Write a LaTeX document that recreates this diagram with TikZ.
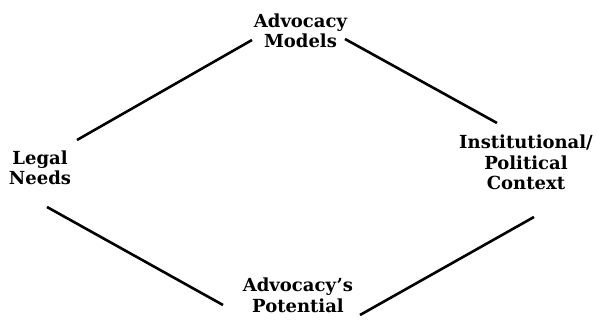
\documentclass[tikz,border=0pt]{standalone}
\usepackage{fontspec}
\setmainfont{DejaVu Serif}
\usetikzlibrary{calc}
\begin{document}
\begin{tikzpicture}[x=1pt,y=-1pt,
  lbl/.style={align=center,inner sep=0pt,anchor=base,
    font=\fontsize{18}{20.5}\selectfont\bfseries},
  link/.style={line width=2.6pt}]
\useasboundingbox (0,0) rectangle (597,323);
\node[lbl] (models) at (300.5,48) {Advocacy\\Models};
\node[lbl] (legal) at (40,185) {Legal\\Needs};
\node[lbl] (inst) at (526,190) {Institutional/\\Political\\Context};
\node[lbl] (pot) at (298,312) {Advocacy's\\Potential};
\draw[link] ($(legal.base)+(37,-45)$) -- ($(models.base)+(-48.5,-8)$);
\draw[link] ($(models.base)+(44.5,-9)$) -- ($(inst.base)+(-29,-67)$);
\draw[link] ($(legal.base)+(7,22)$) -- ($(pot.base)+(-75,-7)$);
\draw[link] ($(pot.base)+(62,3)$) -- ($(inst.base)+(8,27)$);
\end{tikzpicture}
\end{document}
